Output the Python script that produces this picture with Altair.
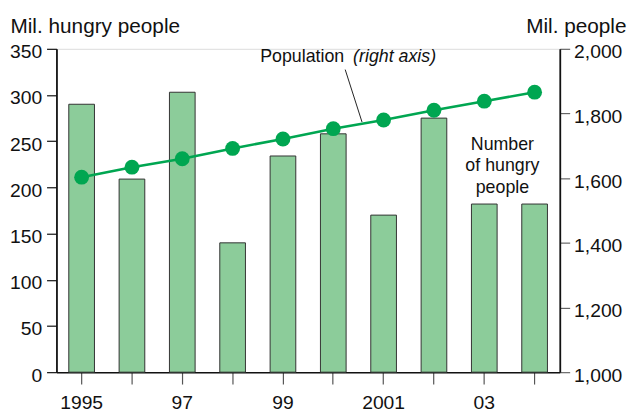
import altair as alt
import pandas as pd

years = [1995, 1996, 1997, 1998, 1999, 2000, 2001, 2002, 2003, 2004]
hungry = [290, 209, 303, 140, 234, 258, 170, 275, 182, 182]
population = [1603, 1634, 1660, 1692, 1721, 1753, 1780, 1810, 1838, 1866]

df = pd.DataFrame({"year": years, "hungry": hungry, "population": population})
one = pd.DataFrame({"k": [0]})

FONT = "Liberation Sans"
W, H = 509, 327
LBL = 19.5
TTL = 21
ANN = 18

x_enc = alt.X(
    "year:O",
    scale=alt.Scale(paddingInner=0.49, paddingOuter=0.245),
    axis=alt.Axis(
        title=None,
        labelAngle=0,
        labelExpr="datum.value == 1995 ? '1995' : datum.value == 2001 ? '2001' : (datum.value % 2 == 1 ? substring(toString(datum.value), 2, 4) : '')",
        labelFontSize=LBL,
        labelFont=FONT,
        labelColor="#111",
        labelPadding=10,
        tickSize=12,
        tickColor="#555",
        tickWidth=1.2,
        domainColor="#111",
        domainWidth=1.6,
    ),
)

bars = alt.Chart(df).mark_bar(
    fill="#8ccc9a", stroke="#333", strokeWidth=1
).encode(
    x=x_enc,
    y=alt.Y(
        "hungry:Q",
        scale=alt.Scale(domain=[0, 350], nice=False),
        axis=alt.Axis(
            orient="left",
            values=[0, 50, 100, 150, 200, 250, 300, 350],
            title="Mil. hungry people",
            titleAngle=0,
            titleAlign="left",
            titleBaseline="alphabetic",
            titleX=-47,
            titleY=-17,
            titleFontSize=TTL,
            titleFontWeight="normal",
            titleFont=FONT,
            titleColor="#111",
            labelFontSize=LBL,
            labelFont=FONT,
            labelColor="#111",
            labelPadding=5,
            labelOffset=3,
            tickSize=10,
            tickColor="#111",
            tickWidth=1.2,
            domainColor="#111",
            domainWidth=1.8,
            grid=False,
        ),
    ),
)

line_y = alt.Y(
    "population:Q",
    scale=alt.Scale(domain=[1000, 2000], nice=False, zero=False),
    axis=alt.Axis(
        orient="right",
        values=[1000, 1200, 1400, 1600, 1800, 2000],
        format=",.0f",
        title="Mil. people",
        titleAngle=0,
        titleAlign="right",
        titleBaseline="alphabetic",
        titleX=67,
        titleY=-17,
        titleFontSize=TTL,
        titleFontWeight="normal",
        titleFont=FONT,
        titleColor="#111",
        labelFontSize=LBL,
        labelFont=FONT,
        labelColor="#111",
        labelPadding=4,
        labelOffset=3,
        tickSize=10,
        tickColor="#666",
        tickWidth=1.2,
        domainColor="#111",
        domainWidth=1.8,
        grid=False,
    ),
)

line = alt.Chart(df).mark_line(color="#00a651", strokeWidth=2.6).encode(x=x_enc, y=line_y)
points = alt.Chart(df).mark_circle(color="#00a651", opacity=1, size=225).encode(x=x_enc, y=line_y)

ann_pop = alt.Chart(one).mark_text(
    text="Population", font=FONT, fontSize=ANN, align="left", baseline="alphabetic", color="#111"
).encode(x=alt.value(206), y=alt.value(13))
ann_pop2 = alt.Chart(one).mark_text(
    text="(right axis)", font=FONT, fontSize=ANN, fontStyle="italic", align="left", baseline="alphabetic", color="#111"
).encode(x=alt.value(300), y=alt.value(13))
leader = alt.Chart(one).mark_rule(color="#222", strokeWidth=1).encode(
    x=alt.value(292), y=alt.value(21), x2=alt.value(309), y2=alt.value(74)
)
ann_num = alt.Chart(one).mark_text(
    text=["Number", "of hungry", "people"], font=FONT, fontSize=ANN, align="center",
    baseline="alphabetic", lineHeight=22, color="#111"
).encode(x=alt.value(451), y=alt.value(102))

right_layer = alt.layer(line, points, ann_pop, ann_pop2, leader, ann_num)

chart = alt.layer(bars, right_layer).resolve_scale(y="independent").properties(
    width=W,
    height=H,
    autosize=alt.AutoSizeParams(type="none"),
    padding={"left": 49, "top": 39, "right": 70, "bottom": 39},
).configure_view(stroke=None).configure(background="white")

chart.save("out.html", embed_options={"renderer": "svg", "actions": False})
